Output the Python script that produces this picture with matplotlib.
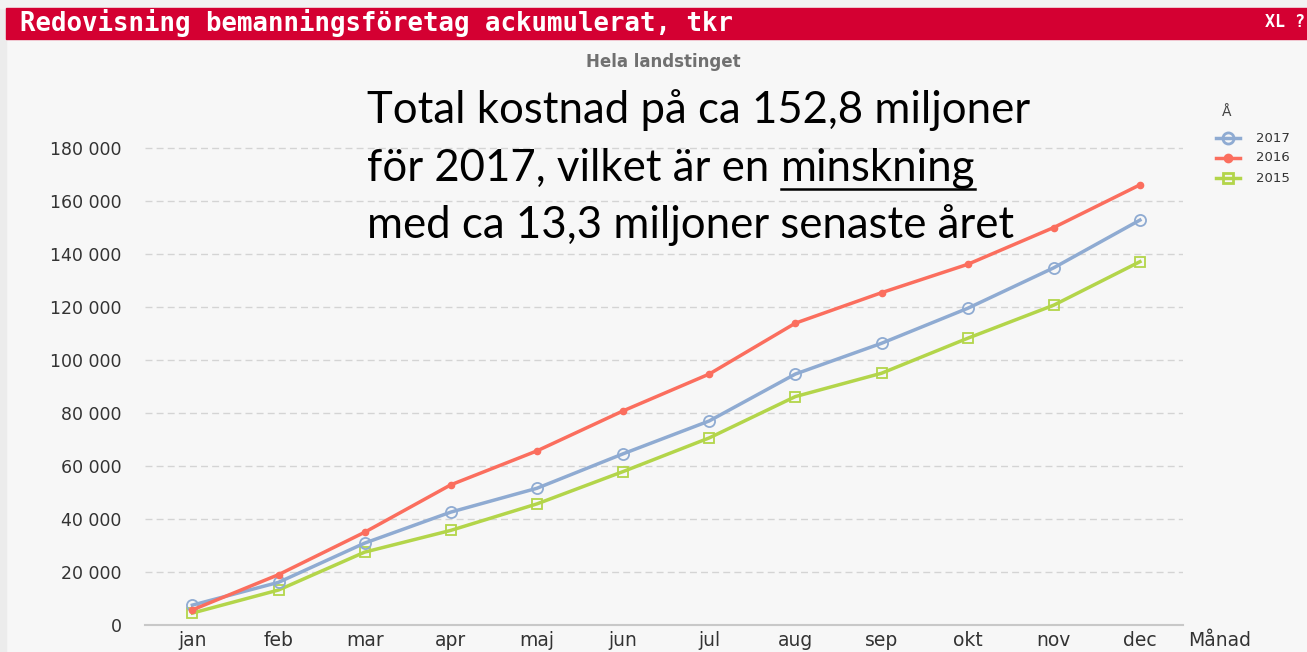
import matplotlib.pyplot as plt
from matplotlib.patches import Rectangle
from matplotlib.lines import Line2D
from matplotlib.ticker import FuncFormatter

# Data (tkr, accumulated per month)
months = ["jan", "feb", "mar", "apr", "maj", "jun", "jul", "aug", "sep", "okt", "nov", "dec"]
y2017 = [7500, 16100, 30900, 42600, 51600, 64600, 77000, 94700, 106300, 119500, 134800, 152800]
y2016 = [5700, 19000, 35000, 52900, 65700, 80800, 94700, 113900, 125400, 136100, 150000, 166100]
y2015 = [4500, 13200, 27500, 35700, 45700, 57900, 70600, 86200, 95000, 108200, 120700, 137100]
yticks = [0, 20000, 40000, 60000, 80000, 100000, 120000, 140000, 160000, 180000]

C17 = "#8fabd2"
C16 = "#fb6e5e"
C15 = "#b3d54a"

W, H = 1307, 652
fig = plt.figure(figsize=(W / 100, H / 100), dpi=100, facecolor="#f7f7f7")

# Panel frame and header bar
fig.patches.append(Rectangle((0, 0), 6 / W, 1, transform=fig.transFigure, color="#ececec", zorder=0))
fig.patches.append(Rectangle((0, 1 - 8 / H), 1, 8 / H, transform=fig.transFigure, color="#f2f2f2", zorder=0))
fig.patches.append(Rectangle((6 / W, 1 - 39 / H), 1, 31 / H, transform=fig.transFigure, color="#d40032", zorder=1))
fig.text(20 / W, 1 - 23 / H, "Redovisning bemanningsföretag ackumulerat, tkr", color="white",
         family="DejaVu Sans Mono", weight="bold", fontsize=18.5, va="center", ha="left")
fig.text(1265 / W, 1 - 22 / H, "XL ?", color="white", family="DejaVu Sans Mono",
         weight="bold", fontsize=12, va="center", ha="left")
fig.text(663 / W, 1 - 62 / H, "Hela landstinget", color="#707070", weight="bold",
         fontsize=12, ha="center", va="center")

ax = fig.add_axes([145 / W, 27 / H, 1038 / W, 492 / H])
ax.set_facecolor("#f7f7f7")
x = range(len(months))
ax.plot(x, y2017, color=C17, lw=2.5, marker="o", ms=8, mfc="none", mec=C17, mew=1.3, zorder=3)
ax.plot(x, y2016, color=C16, lw=2.5, marker="o", ms=4.5, mfc=C16, mec=C16, zorder=4)
ax.plot(x, y2015, color=C15, lw=2.5, marker="s", ms=7.5, mfc="none", mec=C15, mew=1.3, zorder=2)

ax.set_xlim(-0.55, 11.5)
ax.set_ylim(0, 180000 * 492 / (625 - 148))
ax.set_yticks(yticks)
ax.yaxis.set_major_formatter(FuncFormatter(lambda v, p: f"{int(v):,}".replace(",", " ")))
ax.set_xticks(list(x))
ax.set_xticklabels(months)
ax.tick_params(axis="y", length=0, pad=17, labelsize=12.5, labelcolor="#333333")
ax.tick_params(axis="x", length=0, pad=4, labelsize=13.5, labelcolor="#333333")
ax.grid(axis="y", color="#d4d4d4", ls=(0, (5, 3)), lw=1)
ax.set_axisbelow(True)
for s in ["top", "right", "left"]:
    ax.spines[s].set_visible(False)
ax.spines["bottom"].set_color("#c8c8c8")
ax.spines["bottom"].set_linewidth(1.5)

fig.text(1188 / W, 1 - 640 / H, "Månad", fontsize=13.5, color="#333333", va="center", ha="left")

# Legend
fig.text(1222 / W, 1 - 112 / H, "Å", fontsize=10, color="#444444", va="center", ha="left")
leg_items = [("2017", C17, "o", "none", 8), ("2016", C16, "o", C16, 5), ("2015", C15, "s", "none", 7)]
for i, (lab, c, m, fc, ms) in enumerate(leg_items):
    yy = 1 - (138 + i * 20) / H
    fig.add_artist(Line2D([1216 / W, 1240 / W], [yy, yy], transform=fig.transFigure, color=c, lw=2.5))
    fig.add_artist(Line2D([1228 / W], [yy], transform=fig.transFigure, marker=m, ms=ms,
                          mfc=fc, mec=c, mew=2, color=c))
    fig.text(1256 / W, yy, lab, fontsize=9.5, color="#333333", va="center", ha="left")

# Annotation text
fs = 31.5
fam = "Lato"
fig.text(367 / W, 1 - 110 / H, "Total kostnad på ca 152,8 miljoner", fontsize=fs, family=fam, va="center")
t1 = fig.text(367 / W, 1 - 168 / H, "för 2017, vilket är en ", fontsize=fs, family=fam, va="center")
fig.canvas.draw()
r = fig.canvas.get_renderer()
bb = t1.get_window_extent(r)
t2 = fig.text(bb.x1 / W, 1 - 168 / H, "minskning", fontsize=fs, family=fam, va="center")
fig.canvas.draw()
bb2 = t2.get_window_extent(r)
fig.add_artist(Line2D([bb2.x0 / W, bb2.x1 / W], [1 - 189 / H, 1 - 189 / H],
                      transform=fig.transFigure, color="black", lw=1.8))
fig.text(367 / W, 1 - 225 / H, "med ca 13,3 miljoner senaste året", fontsize=fs, family=fam, va="center")

fig.savefig("out.png", dpi=100, facecolor=fig.get_facecolor())
